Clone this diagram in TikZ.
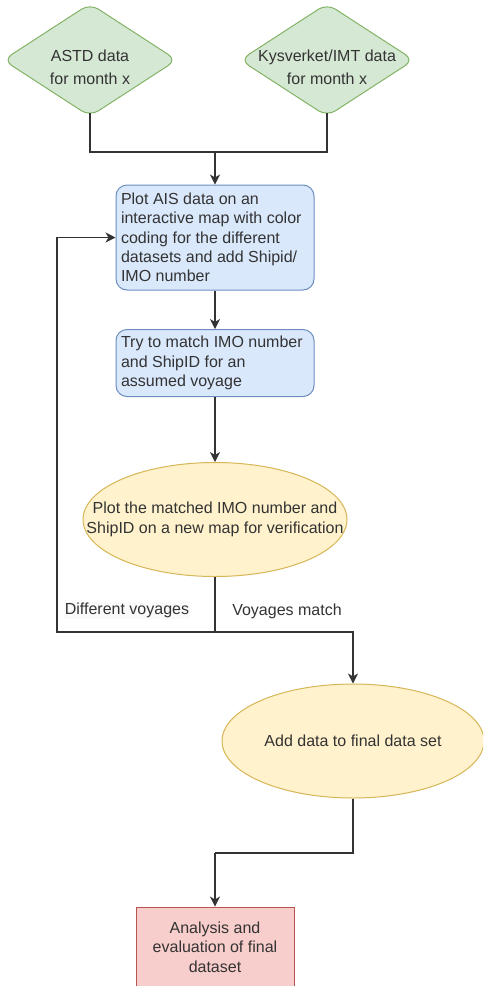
\documentclass[tikz,border=0pt]{standalone}
\usepackage{fontspec}
\setmainfont{Liberation Sans}
\usetikzlibrary{arrows.meta, positioning, shapes.geometric}
\definecolor{dataFill}{HTML}{D5E8D4}
\definecolor{dataDraw}{HTML}{82B366}
\definecolor{stepFill}{HTML}{DAE8FC}
\definecolor{stepDraw}{HTML}{6C8EBF}
\definecolor{checkFill}{HTML}{FFF2CC}
\definecolor{checkDraw}{HTML}{D6B656}
\definecolor{endFill}{HTML}{F8CECC}
\definecolor{endDraw}{HTML}{B85450}
\definecolor{inkGray}{HTML}{333333}
\tikzset{
    >=Stealth,
    every node/.style={font=\fontsize{16}{19.3}\selectfont, text=inkGray},
    flow_data/.style={
        diamond,
        draw=dataDraw,
        fill=dataFill,
        line width=1pt,
        rounded corners=10pt,
        minimum width=174pt,
        minimum height=113pt,
        inner xsep=-40pt,
        inner ysep=-15pt,
        text height=50pt,
        align=center
    },
    flow_step/.style={
        rectangle,
        rounded corners=11pt,
        draw=stepDraw,
        fill=stepFill,
        line width=1pt,
        text width=188pt,
        inner xsep=5pt,
        inner ysep=0pt,
        align=flush left
    },
    flow_check/.style={
        ellipse,
        draw=checkDraw,
        fill=checkFill,
        line width=1pt,
        inner xsep=-50pt,
        inner ysep=-10pt,
        align=center
    },
    flow_end/.style={
        rectangle,
        draw=endDraw,
        fill=endFill,
        line width=1pt,
        minimum width=158pt,
        minimum height=80pt,
        align=center
    },
    flow_line/.style={
        draw=inkGray,
        line width=1.3pt
    },
    flow_arrow/.style={
        -{Stealth[length=10pt, width=10pt, inset=3pt]},
        draw=inkGray,
        line width=1.3pt
    },
    flow_label/.style={
        inner sep=1pt
    }
}

\begin{document}
\begin{tikzpicture}[x=1pt, y=-1pt]
\useasboundingbox (0,0) rectangle (483,986);
\clip (0,0) rectangle (483,986);

\node[flow_data] (astd) at (90,60) {ASTD data\\[4.5pt]for month x};
\node[flow_data] (kys) at (327,60) {Kysverket/IMT data\\[4.5pt]for month x};

\node[flow_step, minimum height=105pt] (plotais) at (215,237.5)
  {Plot AIS data on an\\interactive map with color\\coding for the different\\datasets and add Shipid/\\IMO number};
\node[flow_step, minimum height=67pt, below=38.5pt of plotais] (match)
  {Try to match IMO number\\and ShipID for an\\assumed voyage};
\node[flow_check, minimum width=264pt, minimum height=114pt, below=65pt of match] (verify)
  {Plot the matched IMO number and\\ShipID on a new map for verification};
\node[flow_check, minimum width=262pt, minimum height=114pt] (final) at (353,741)
  {Add data to final data set};
\node[flow_end] (analysis) at (215,947)
  {Analysis and\\evaluation of final\\dataset};

\coordinate (merge) at (215,152);
\coordinate (split) at (215,632);
\coordinate (collect) at (215,853);

\draw[flow_line, shorten <=-4pt] (astd.south) |- (merge);
\draw[flow_line, shorten <=-4pt] (kys.south) |- (merge);
\draw[flow_arrow] (merge) -- (plotais.north);
\draw[flow_arrow] (plotais) -- (match);
\draw[flow_arrow] (match) -- (verify);
\draw[flow_line] (verify.south) -- (split);
\draw[flow_arrow] (split) -- ++(-158,0) |- (plotais.west);
\draw[flow_arrow] (split) -| (final.north);
\draw[flow_line] (final.south) |- (collect);
\draw[flow_arrow] (collect) -- (analysis.north);

\node[flow_label, fill=gray!4] (diffLabel) at (127,610.5) {Different voyages};
\node[flow_label] (sameLabel) at (287,611.5) {Voyages match};

\end{tikzpicture}
\end{document}
